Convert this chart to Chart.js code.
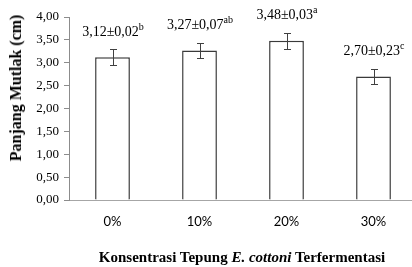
<!DOCTYPE html>
<html>
<head>
<meta charset="utf-8">
<script src="https://cdn.jsdelivr.net/npm/chart.js@4.4.0/dist/chart.umd.min.js"></script>
<style>
  html, body { margin: 0; padding: 0; background: #fff; overflow: hidden; }
  #wrap { position: relative; width: 412px; height: 267px; overflow: hidden; }
  #chart { position: absolute; left: 0; top: 0; }
  .ytitle {
    position: absolute; left: 16px; top: 88px;
    transform: translate(-50%, -50%) rotate(-90deg);
    white-space: nowrap;
    font: bold 16px "Liberation Serif", "DejaVu Serif", serif; color: #000;
  }
  .xtitle {
    position: absolute; left: 242px; top: 257px;
    transform: translate(-50%, -50%);
    white-space: nowrap;
    font: bold 15px "Liberation Serif", "DejaVu Serif", serif; color: #000;
  }
</style>
</head>
<body>
<div id="wrap">
  <canvas id="chart" width="418" height="267"></canvas>
  <div class="ytitle">Panjang Mutlak (cm)</div>
  <div class="xtitle">Konsentrasi Tepung <i>E. cottoni</i> Terfermentasi</div>
</div>
<script>
// data
const kategori = ['0%', '10%', '20%', '30%'];
const panjang = [3.12, 3.27, 3.48, 2.70];
const galatBar = [0.18, 0.17, 0.17, 0.17];   // error bar yang tergambar
const labelNilai = ['3,12±0,02', '3,27±0,07', '3,48±0,03', '2,70±0,23'];
const labelHuruf = ['b', 'ab', 'a', 'c'];
const yTicks = [0, 0.5, 1, 1.5, 2, 2.5, 3, 3.5, 4];

const SERIF = '"Liberation Serif", "DejaVu Serif", serif';

// error bar + label notasi di atas batang
const errorLabelPlugin = {
  id: 'errorLabel',
  afterDatasetsDraw(chart) {
    const ctx = chart.ctx;
    const y = chart.scales.y;
    const meta = chart.getDatasetMeta(0);
    ctx.save();
    meta.data.forEach((bar, i) => {
      const x = Math.round(bar.x);
      const yTop = Math.round(y.getPixelForValue(panjang[i] + galatBar[i]));
      const yBot = Math.round(y.getPixelForValue(panjang[i] - galatBar[i]));
      ctx.strokeStyle = '#404040';
      ctx.lineWidth = 1;
      ctx.beginPath();
      ctx.moveTo(x + 0.5, yTop); ctx.lineTo(x + 0.5, yBot);
      ctx.moveTo(x - 3, yTop + 0.5); ctx.lineTo(x + 4, yTop + 0.5);
      ctx.moveTo(x - 3, yBot + 0.5); ctx.lineTo(x + 4, yBot + 0.5);
      ctx.stroke();

      // teks nilai ± sd dengan huruf superskrip
      const ly = bar.y - 25;
      ctx.fillStyle = '#000';
      ctx.textBaseline = 'middle';
      ctx.font = '14px ' + SERIF;
      const w1 = ctx.measureText(labelNilai[i]).width;
      ctx.font = '10px ' + SERIF;
      const w2 = ctx.measureText(labelHuruf[i]).width;
      const x0 = x - (w1 + w2) / 2;
      ctx.textAlign = 'left';
      ctx.font = '14px ' + SERIF;
      ctx.fillText(labelNilai[i], x0, ly);
      ctx.font = '10px ' + SERIF;
      ctx.fillText(labelHuruf[i], x0 + w1, ly - 5);
    });
    ctx.restore();
  }
};

new Chart(document.getElementById('chart'), {
  type: 'bar',
  data: {
    labels: kategori,
    datasets: [{
      data: panjang,
      backgroundColor: '#ffffff',
      borderColor: '#3a3a3a',
      borderWidth: 1.5,
      barPercentage: 0.4,
      categoryPercentage: 1
    }]
  },
  options: {
    responsive: false,
    animation: false,
    devicePixelRatio: 1,
    layout: { padding: { top: 17, right: 1, bottom: 0, left: 0 } },
    plugins: { legend: { display: false }, tooltip: { enabled: false } },
    scales: {
      x: {
        grid: { display: false, drawTicks: false },
        border: { color: '#a6a6a6', width: 1 },
        ticks: { color: '#000', font: { family: 'Lato, "Liberation Sans", sans-serif', size: 13 }, padding: 14 },
        afterFit: s => { s.height = 67; }
      },
      y: {
        min: 0, max: 4,
        afterBuildTicks: s => { s.ticks = yTicks.map(v => ({ value: v })); },
        grid: { drawOnChartArea: false, tickLength: 5, color: '#8c8c8c' },
        border: { color: '#8c8c8c', width: 1 },
        ticks: {
          color: '#000',
          font: { family: SERIF, size: 13 },
          padding: 5,
          callback: v => Number(v).toFixed(2).replace('.', ',')
        },
        afterFit: s => { s.width = 69; }
      }
    }
  },
  plugins: [errorLabelPlugin]
});
</script>
</body>
</html>
